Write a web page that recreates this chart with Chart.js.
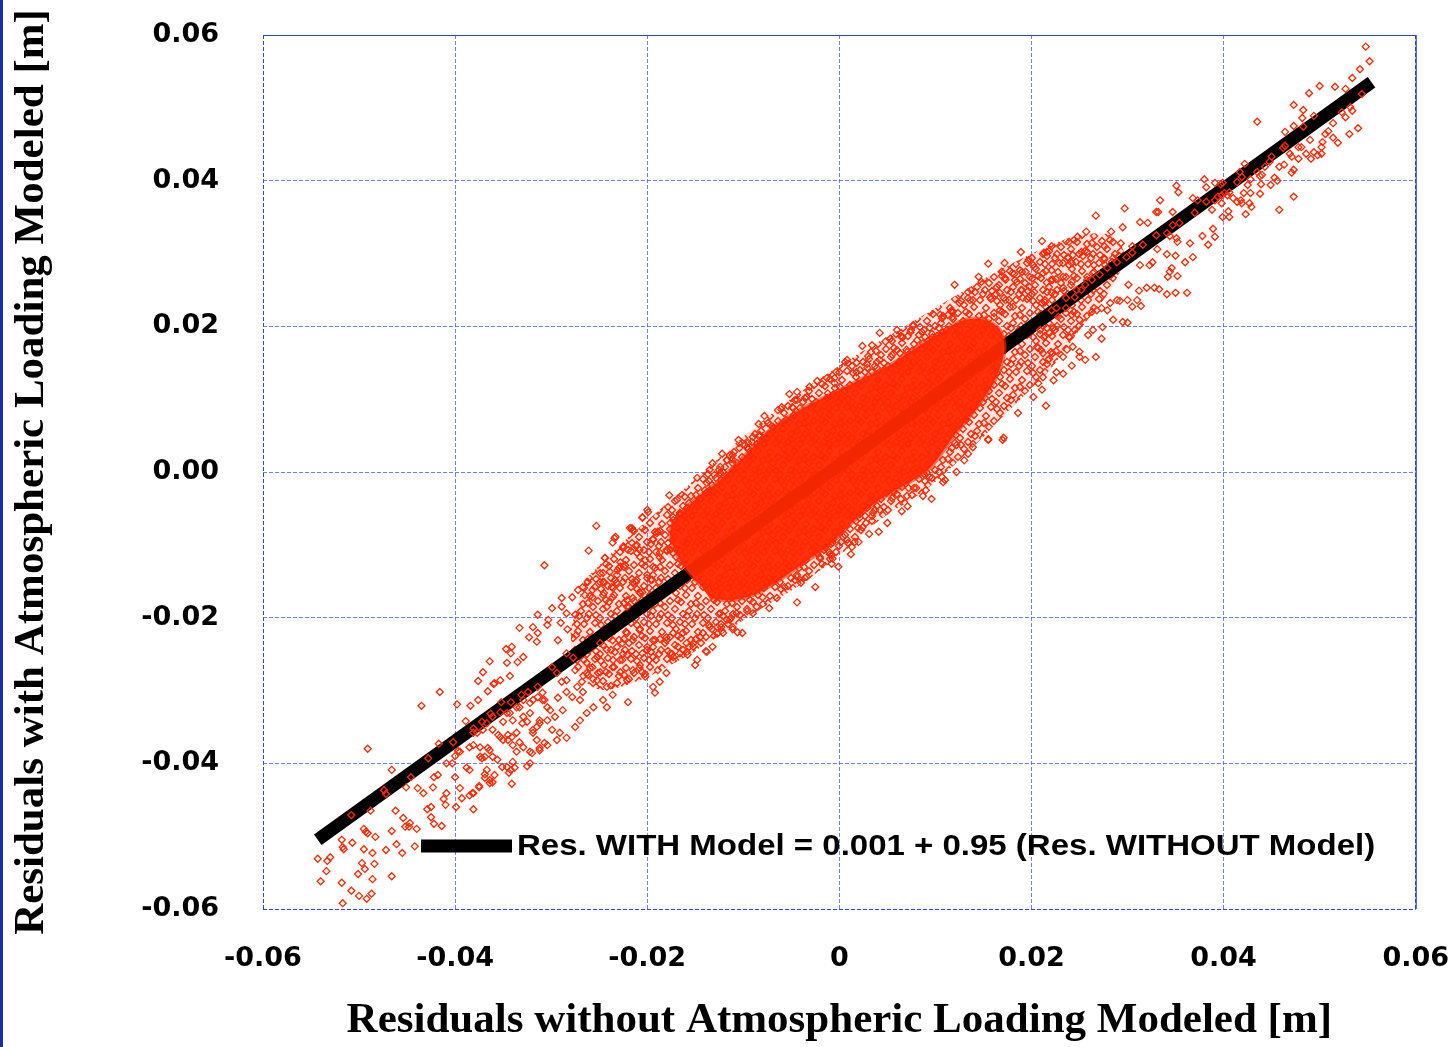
<!DOCTYPE html>
<html>
<head>
<meta charset="utf-8">
<title>Residuals with / without atmospheric loading</title>
<script src="https://cdn.jsdelivr.net/npm/chart.js@4.4.1/dist/chart.umd.min.js"></script>
<style>
  html, body { margin: 0; padding: 0; background: #fff; }
  #wrap { position: relative; width: 1449px; height: 1047px; }
  #edge { position: absolute; left: 0; top: 0; width: 3px; height: 1047px; background: #1a2bb0; }
</style>
</head>
<body>
<div id="wrap">
  <canvas id="residualChart"></canvas>
  <div id="edge"></div>
</div>
<script>
// axis ticks
const xTickValues = [-0.06, -0.04, -0.02, 0, 0.02, 0.04, 0.06];
const xTickLabels = ['-0.06', '-0.04', '-0.02', '0', '0.02', '0.04', '0.06'];
const yTickValues = [-0.06, -0.04, -0.02, 0, 0.02, 0.04, 0.06];
const yTickLabels = ['-0.06', '-0.04', '-0.02', '0.00', '0.02', '0.04', '0.06'];

// regression line end points
const fitX = [-0.0543, 0.0554];
const fitY = [-0.0505, 0.0535];
const legendText = 'Res. WITH Model = 0.001 + 0.95 (Res. WITHOUT Model)';

// outline of the busy middle of the cloud [without, with]
const bandOutline = [
  [-0.0265,-0.0148],[-0.0228,-0.0100],[-0.0187,-0.0052],[-0.0145,-0.0004],[-0.0104,0.0044],
  [-0.0052,0.0099],[0.0001,0.0147],[0.0053,0.0188],[0.0105,0.0229],[0.0157,0.0270],
  [0.0209,0.0305],[0.0250,0.0325],[0.0282,0.0325],[0.0297,0.0298],[0.0282,0.0250],
  [0.0250,0.0195],[0.0219,0.0140],[0.0177,0.0085],[0.0136,0.0030],[0.0089,-0.0025],
  [0.0042,-0.0066],[0.0001,-0.0114],[-0.0041,-0.0155],[-0.0083,-0.0189],[-0.0124,-0.0224],
  [-0.0166,-0.0258],[-0.0208,-0.0286],[-0.0249,-0.0299],[-0.0275,-0.0272],[-0.0280,-0.0217]
];

// outline of the saturated centre of the cloud [without, with]
const coreOutline = [
  [-0.0145,-0.0155],[-0.0166,-0.0121],[-0.0176,-0.0080],[-0.0156,-0.0045],[-0.0124,-0.0011],
  [-0.0098,0.0023],[-0.0072,0.0058],[-0.0041,0.0085],[-0.0010,0.0106],[0.0021,0.0126],
  [0.0053,0.0147],[0.0084,0.0174],[0.0110,0.0195],[0.0131,0.0209],[0.0151,0.0209],
  [0.0167,0.0195],[0.0172,0.0168],[0.0162,0.0126],[0.0141,0.0085],[0.0120,0.0051],
  [0.0094,0.0005],[0.0068,-0.0018],[0.0042,-0.0038],[0.0016,-0.0066],[-0.0010,-0.0100],
  [-0.0036,-0.0124],[-0.0062,-0.0148],[-0.0088,-0.0168],[-0.0114,-0.0176],[-0.0135,-0.0173]
];

// individual residual pairs [without model, with model], in metres
const lowerTail = [
  [-0.0416,-0.0302],[-0.0435,-0.0321],[-0.0491,-0.0380],[-0.0466,-0.0409],[-0.0446,-0.0419],[-0.0451,-0.0433],[-0.0474,-0.0437],[-0.0472,-0.0442],[-0.0508,-0.0471],[-0.0488,-0.0465],
  [-0.0462,-0.0465],[-0.0454,-0.0475],[-0.0447,-0.0482],[-0.0452,-0.0487],[-0.0448,-0.0487],[-0.0440,-0.0490],[-0.0466,-0.0493],[-0.0495,-0.0490],[-0.0493,-0.0494],[-0.0491,-0.0496],
  [-0.0483,-0.0501],[-0.0518,-0.0505],[-0.0507,-0.0509],[-0.0517,-0.0515],[-0.0516,-0.0518],[-0.0461,-0.0511],[-0.0442,-0.0514],[-0.0472,-0.0519],[-0.0455,-0.0523],[-0.0495,-0.0518],
  [-0.0486,-0.0523],[-0.0530,-0.0529],[-0.0533,-0.0534],[-0.0543,-0.0531],[-0.0497,-0.0537],[-0.0494,-0.0545],[-0.0484,-0.0538],[-0.0534,-0.0548],[-0.0501,-0.0552],[-0.0466,-0.0555],
  [-0.0486,-0.0559],[-0.0540,-0.0562],[-0.0518,-0.0564],[-0.0508,-0.0575],[-0.0500,-0.0582],[-0.0492,-0.0586],[-0.0487,-0.0579],[-0.0517,-0.0592],
  [-0.0398,-0.0319],[-0.0389,-0.0342],[-0.0384,-0.0321],[-0.0376,-0.0313],[-0.0366,-0.0301],[-0.0360,-0.0291],[-0.0353,-0.0286],
  [-0.0409,-0.0400],[-0.0400,-0.0390],[-0.0397,-0.0383],[-0.0388,-0.0406],[-0.0385,-0.0409],[-0.0395,-0.0434],[-0.0381,-0.0463],[-0.0382,-0.0441],[-0.0393,-0.0448],[-0.0399,-0.0460],
  [-0.0412,-0.0449],[-0.0410,-0.0457],[-0.0425,-0.0460],[-0.0423,-0.0433],[-0.0418,-0.0416],[-0.0422,-0.0419],[-0.0439,-0.0434],[-0.0433,-0.0441],[-0.0429,-0.0463],[-0.0425,-0.0474],
  [-0.0422,-0.0483],[-0.0414,-0.0486],[-0.0369,-0.0415],[-0.0364,-0.0423],[-0.0361,-0.0426],[-0.0367,-0.0409],[-0.0356,-0.0395],[-0.0351,-0.0405],[-0.0341,-0.0428],[-0.0344,-0.0413],
  [-0.0338,-0.0406],[-0.0325,-0.0404],[-0.0322,-0.0400],[-0.0372,-0.0393],[-0.0375,-0.0431],
  [-0.0353,-0.0364],[-0.0350,-0.0368],[-0.0345,-0.0361],[-0.0340,-0.0375],[-0.0333,-0.0371],[-0.0322,-0.0384],[-0.0312,-0.0382],[-0.0307,-0.0372],[-0.0319,-0.0354],[-0.0312,-0.0345],
  [-0.0304,-0.0341],[-0.0325,-0.0343],[-0.0340,-0.0341],[-0.0350,-0.0343],[-0.0361,-0.0354],[-0.0364,-0.0382],[-0.0369,-0.0391],[-0.0374,-0.0378],[-0.0381,-0.0375],[-0.0377,-0.0358],
  [-0.0353,-0.0330],[-0.0343,-0.0331],[-0.0333,-0.0323],[-0.0319,-0.0313],[-0.0309,-0.0313],[-0.0314,-0.0295],[-0.0309,-0.0303],
  [-0.0428,-0.0393],[-0.0417,-0.0373],[-0.0402,-0.0371],[-0.0381,-0.0352],[-0.0372,-0.0343],[-0.0363,-0.0332],[-0.0352,-0.0316],[-0.0342,-0.0316],[-0.0331,-0.0306],[-0.0324,-0.0302]
];

const lowerBand = [
  [-0.0253,-0.0074],[-0.0261,-0.0108],[-0.0307,-0.0128],[-0.0244,-0.0118],[-0.0233,-0.0089],[-0.0236,-0.0097],[-0.0216,-0.0077],[-0.0214,-0.0081],[-0.0205,-0.0062],[-0.0199,-0.0055],
  [-0.0225,-0.0104],[-0.0220,-0.0107],[-0.0211,-0.0100],[-0.0228,-0.0124],[-0.0228,-0.0130],[-0.0239,-0.0137],[-0.0246,-0.0151],[-0.0249,-0.0139],[-0.0237,-0.0158],[-0.0232,-0.0152],
  [-0.0262,-0.0151],[-0.0257,-0.0162],[-0.0267,-0.0158],[-0.0272,-0.0162],[-0.0278,-0.0172],[-0.0265,-0.0169],[-0.0257,-0.0172],[-0.0246,-0.0169],[-0.0289,-0.0173],[-0.0289,-0.0185],
  [-0.0299,-0.0187],[-0.0314,-0.0196],[-0.0303,-0.0203],[-0.0304,-0.0210],[-0.0333,-0.0214],[-0.0319,-0.0213],[-0.0323,-0.0227],[-0.0314,-0.0221],[-0.0315,-0.0233],[-0.0341,-0.0240],
  [-0.0347,-0.0243],[-0.0342,-0.0249],[-0.0329,-0.0254],[-0.0335,-0.0261],[-0.0364,-0.0260],[-0.0346,-0.0262],[-0.0343,-0.0280],[-0.0359,-0.0290],[-0.0371,-0.0275],[-0.0376,-0.0287],
  [-0.0284,-0.0194],[-0.0275,-0.0196],[-0.0290,-0.0207],[-0.0283,-0.0216],[-0.0274,-0.0224],[-0.0293,-0.0231],
  [-0.0263,-0.0262],[-0.0257,-0.0268],[-0.0249,-0.0275],[-0.0252,-0.0286],[-0.0242,-0.0295],[-0.0228,-0.0275],[-0.0221,-0.0286],[-0.0220,-0.0316],[-0.0236,-0.0306],[-0.0246,-0.0313],
  [-0.0242,-0.0323],[-0.0256,-0.0323],[-0.0263,-0.0331],[-0.0270,-0.0341],[-0.0275,-0.0350],[-0.0284,-0.0365],[-0.0291,-0.0358],[-0.0299,-0.0354],[-0.0294,-0.0368],[-0.0304,-0.0375],
  [-0.0312,-0.0379],[-0.0315,-0.0368],[-0.0320,-0.0386],[-0.0329,-0.0378],[-0.0336,-0.0384],[-0.0340,-0.0398],[-0.0346,-0.0405],[-0.0342,-0.0409],[-0.0359,-0.0416],[-0.0364,-0.0427],
  [-0.0369,-0.0420],[-0.0375,-0.0433],[-0.0381,-0.0441],[-0.0385,-0.0444],[-0.0374,-0.0391],[-0.0366,-0.0379],[-0.0361,-0.0391],[-0.0345,-0.0368],[-0.0341,-0.0364],[-0.0336,-0.0358],
  [-0.0355,-0.0361],[-0.0329,-0.0336],[-0.0330,-0.0345],[-0.0315,-0.0350],[-0.0319,-0.0358],[-0.0322,-0.0331],[-0.0312,-0.0341],[-0.0301,-0.0327],[-0.0304,-0.0323],[-0.0293,-0.0310],
  [-0.0296,-0.0336],[-0.0288,-0.0327],[-0.0284,-0.0302],[-0.0278,-0.0309],[-0.0273,-0.0295],[-0.0270,-0.0313],[-0.0267,-0.0302],[-0.0284,-0.0286],[-0.0289,-0.0288],[-0.0275,-0.0272],
  [-0.0263,-0.0276],[-0.0268,-0.0288],[-0.0277,-0.0255],[-0.0284,-0.0249],[-0.0299,-0.0268],[-0.0294,-0.0276],[-0.0314,-0.0309],[-0.0307,-0.0313],[-0.0322,-0.0317],[-0.0329,-0.0313],
  [-0.0336,-0.0323],[-0.0346,-0.0331],[-0.0361,-0.0336],[-0.0367,-0.0345],[-0.0371,-0.0354],[-0.0381,-0.0358],[-0.0385,-0.0378],[-0.0395,-0.0384],[-0.0403,-0.0400],[-0.0400,-0.0419],
  [-0.0409,-0.0441],
  [-0.0194,-0.0295],[-0.0187,-0.0288],[-0.0192,-0.0303],[-0.0202,-0.0281],[-0.0208,-0.0269],[-0.0215,-0.0272],[-0.0221,-0.0251],[-0.0226,-0.0258],[-0.0236,-0.0268],[-0.0205,-0.0249],
  [-0.0194,-0.0254],[-0.0180,-0.0276],[-0.0189,-0.0272],[-0.0173,-0.0254],[-0.0166,-0.0249],[-0.0159,-0.0235],[-0.0152,-0.0240],[-0.0150,-0.0265],[-0.0148,-0.0258],[-0.0138,-0.0247],
  [-0.0132,-0.0240],[-0.0180,-0.0227],[-0.0173,-0.0221],[-0.0194,-0.0231],[-0.0200,-0.0240],[-0.0208,-0.0217],[-0.0215,-0.0231],[-0.0221,-0.0221],[-0.0226,-0.0235],[-0.0236,-0.0231],
  [-0.0242,-0.0244],[-0.0249,-0.0235],[-0.0252,-0.0254],[-0.0142,-0.0221],[-0.0127,-0.0213],[-0.0121,-0.0221],[-0.0111,-0.0213],[-0.0117,-0.0203],[-0.0107,-0.0194],
  [-0.0173,-0.0066],[-0.0166,-0.0056],[-0.0190,-0.0084],[-0.0187,-0.0111],[-0.0194,-0.0130],[-0.0176,-0.0107],[-0.0173,-0.0093],[-0.0208,-0.0107],[-0.0202,-0.0121],[-0.0211,-0.0148],
  [-0.0195,-0.0148],[-0.0221,-0.0185],[-0.0215,-0.0173],[-0.0208,-0.0165],[-0.0159,-0.0097]
];

const coreFringe = [
  [-0.0044,-0.0179],[-0.0073,-0.0187],[-0.0090,-0.0194],[-0.0096,-0.0191],[-0.0106,-0.0220],[-0.0111,-0.0216],[-0.0101,-0.0221],[-0.0139,-0.0246],[-0.0127,-0.0222],[-0.0123,-0.0213],
  [-0.0025,-0.0158],[-0.0040,-0.0152],[-0.0034,-0.0144],[-0.0010,-0.0113],[-0.0001,-0.0130],[-0.0020,-0.0119],[-0.0044,-0.0144],[-0.0057,-0.0158],[-0.0065,-0.0173],[-0.0080,-0.0172],
  [-0.0086,-0.0185],[-0.0114,-0.0203],[-0.0124,-0.0194],[-0.0135,-0.0213],[-0.0145,-0.0227],[-0.0152,-0.0235],[-0.0163,-0.0221],[-0.0168,-0.0240],[-0.0158,-0.0251],[-0.0176,-0.0249],
  [-0.0180,-0.0231],
  [-0.0177,-0.0032],[-0.0148,-0.0008],[-0.0169,-0.0038],[-0.0161,-0.0034],[-0.0200,-0.0052],[-0.0205,-0.0063],[-0.0218,-0.0077],[-0.0215,-0.0080],[-0.0234,-0.0091],[-0.0244,-0.0118],
  [-0.0245,-0.0151],[-0.0223,-0.0128],[-0.0231,-0.0135],[-0.0194,-0.0093],[-0.0189,-0.0082],[-0.0176,-0.0070],[-0.0166,-0.0059],[-0.0158,-0.0049],[-0.0145,-0.0038],[-0.0135,-0.0025],
  [-0.0130,-0.0004],[-0.0124,0.0007],[-0.0117,0.0016],[-0.0111,0.0023],[-0.0104,0.0033],[-0.0095,0.0040],[-0.0187,-0.0117],[-0.0180,-0.0107],[-0.0215,-0.0152],[-0.0200,-0.0141],
  [-0.0221,-0.0176],[-0.0236,-0.0172],[-0.0242,-0.0185],[-0.0205,-0.0165],
  [0.0024,0.0173],[0.0034,0.0174],[0.0008,0.0154],[0.0018,0.0150],[0.0030,0.0159],[0.0042,0.0191],[0.0048,0.0179],[0.0053,0.0183],[0.0055,0.0161],[0.0060,0.0195],
  [0.0065,0.0185],[0.0074,0.0192],[0.0077,0.0202],[0.0086,0.0192],[0.0094,0.0198],[0.0105,0.0216],[0.0117,0.0220],[0.0118,0.0213],[0.0108,0.0192],[-0.0023,0.0125],
  [-0.0031,0.0117],[-0.0044,0.0110],[-0.0052,0.0107],[-0.0044,0.0099],[-0.0060,0.0089],[-0.0064,0.0085],[-0.0049,0.0089],[-0.0078,0.0077],[-0.0084,0.0066],[-0.0072,0.0065],
  [-0.0090,0.0048],[-0.0083,0.0051],[-0.0105,0.0044],[-0.0096,0.0034],[-0.0114,0.0023],[-0.0122,0.0025],[-0.0132,0.0012],[-0.0135,0.0003],[-0.0111,0.0012],[-0.0124,-0.0001],
  [-0.0138,-0.0015],[-0.0140,-0.0025],[-0.0013,0.0129],[-0.0005,0.0129],[0.0000,0.0137],[0.0006,0.0151],[0.0018,0.0137],[0.0029,0.0143],[-0.0005,0.0122],[-0.0012,0.0108],
  [-0.0034,0.0103],[0.0039,0.0143],[0.0042,0.0154],[0.0063,0.0163],[0.0070,0.0168],[0.0081,0.0181],[0.0087,0.0177],[0.0097,0.0185],
  [0.0122,0.0000],[0.0130,0.0016],[0.0134,0.0025],[0.0139,0.0034],[0.0108,-0.0014],[0.0110,-0.0011],[0.0107,-0.0007],[0.0096,-0.0037],[0.0087,-0.0033],[0.0090,-0.0025],
  [0.0071,-0.0047],[0.0065,-0.0054],[0.0064,-0.0037],[0.0055,-0.0036],[0.0072,-0.0022],[0.0080,-0.0022],[0.0050,-0.0070],[0.0041,-0.0082],[0.0031,-0.0085],[0.0020,-0.0096],
  [0.0016,-0.0096],[0.0012,-0.0113],[0.0013,-0.0103],[0.0008,-0.0093],[0.0004,-0.0089],[-0.0008,-0.0114],[-0.0007,-0.0119],[-0.0008,-0.0126],[-0.0015,-0.0103],[-0.0007,-0.0097],
  [0.0034,-0.0067],[0.0024,-0.0076],[0.0021,-0.0063],[0.0035,-0.0056],[0.0042,-0.0052],[0.0094,-0.0007],[0.0091,-0.0001],[0.0084,0.0003],[0.0117,0.0033],[0.0122,0.0037],
  [0.0155,0.0044],[0.0170,0.0044]
];

const upperBand = [
  [0.0321,0.0342],[0.0295,0.0336],[0.0283,0.0330],[0.0248,0.0323],[0.0239,0.0316],[0.0211,0.0317],[0.0189,0.0302],[0.0221,0.0310],[0.0216,0.0302],[0.0213,0.0301],
  [0.0252,0.0302],[0.0243,0.0298],[0.0276,0.0310],[0.0293,0.0314],[0.0305,0.0310],[0.0316,0.0312],[0.0331,0.0306],[0.0341,0.0299],[0.0350,0.0297],[0.0368,0.0295],
  [0.0360,0.0288],[0.0378,0.0324],[0.0389,0.0334],[0.0391,0.0323],[0.0384,0.0312],[0.0365,0.0314],[0.0352,0.0316],[0.0344,0.0324],[0.0351,0.0321],[0.0326,0.0288],
  [0.0323,0.0284],[0.0313,0.0284],[0.0346,0.0280],[0.0344,0.0275],[0.0342,0.0268],[0.0352,0.0269],[0.0362,0.0246],[0.0350,0.0246],[0.0341,0.0244],[0.0333,0.0251],
  [0.0328,0.0253],[0.0320,0.0253],[0.0312,0.0249],[0.0301,0.0257],[0.0310,0.0236],[0.0314,0.0228],[0.0305,0.0227],[0.0300,0.0236],[0.0292,0.0235],[0.0289,0.0236],
  [0.0282,0.0232],[0.0279,0.0222],[0.0273,0.0225],[0.0268,0.0222],[0.0285,0.0209],[0.0300,0.0205],[0.0295,0.0206],[0.0274,0.0199],[0.0264,0.0195],[0.0259,0.0188],
  [0.0273,0.0183],[0.0267,0.0158],[0.0256,0.0154],[0.0250,0.0158],[0.0242,0.0146],[0.0233,0.0135],[0.0223,0.0126],[0.0215,0.0091],[0.0211,0.0113],[0.0202,0.0103],
  [0.0186,0.0081],[0.0171,0.0047],[0.0155,0.0045],[0.0243,0.0172],[0.0250,0.0165],[0.0237,0.0168],[0.0233,0.0158],[0.0222,0.0163],[0.0217,0.0154],[0.0226,0.0137],
  [0.0212,0.0130],[0.0207,0.0122],[0.0245,0.0195],[0.0240,0.0185],[0.0250,0.0209],[0.0263,0.0220],[0.0242,0.0216],[0.0236,0.0225],[0.0228,0.0213],[0.0223,0.0198],
  [0.0219,0.0191],[0.0213,0.0185],[0.0209,0.0195],[0.0206,0.0172],[0.0212,0.0163],
  [0.0216,0.0260],[0.0212,0.0273],[0.0222,0.0264],[0.0221,0.0246],[0.0211,0.0232],[0.0214,0.0233],[0.0203,0.0247],[0.0198,0.0254],[0.0190,0.0250],[0.0185,0.0261],
  [0.0180,0.0273],[0.0172,0.0287],[0.0169,0.0275],[0.0155,0.0286],[0.0145,0.0268],[0.0148,0.0261],[0.0134,0.0247],[0.0136,0.0236],[0.0125,0.0232],[0.0120,0.0257],
  [0.0117,0.0222],[0.0118,0.0220],[0.0107,0.0211],[0.0066,0.0185],[0.0197,0.0291],[0.0194,0.0275],[0.0197,0.0240],[0.0191,0.0239],[0.0181,0.0227],[0.0173,0.0236],
  [0.0167,0.0222],[0.0161,0.0213],[0.0157,0.0240],[0.0167,0.0246],[0.0164,0.0254],[0.0173,0.0264],[0.0182,0.0272],[0.0188,0.0277],[0.0201,0.0266],[0.0245,0.0240],
  [0.0252,0.0250],[0.0242,0.0261],[0.0233,0.0253],[0.0226,0.0225],[0.0233,0.0268],[0.0258,0.0268],[0.0264,0.0273],[0.0238,0.0295],[0.0242,0.0287],[0.0265,0.0284],
  [0.0276,0.0292],[0.0285,0.0294],[0.0258,0.0302],[0.0229,0.0287],[0.0221,0.0277],[0.0203,0.0281],
  [0.0221,0.0222],[0.0236,0.0239],[0.0247,0.0250],[0.0256,0.0257],[0.0263,0.0264],[0.0271,0.0271],[0.0279,0.0280],[0.0289,0.0288],[0.0299,0.0295],[0.0305,0.0301],
  [0.0330,0.0325],[0.0341,0.0328],[0.0347,0.0339],[0.0354,0.0342],
  [0.0267,0.0352],[0.0297,0.0362],[0.0313,0.0343],[0.0257,0.0330],[0.0334,0.0373]
];

const upperTail = [
  [0.0548,0.0584],[0.0552,0.0564],[0.0542,0.0553],[0.0534,0.0541],[0.0527,0.0526],[0.0516,0.0529],[0.0500,0.0530],[0.0489,0.0520],[0.0473,0.0504],[0.0483,0.0497],
  [0.0482,0.0486],[0.0494,0.0489],[0.0544,0.0519],[0.0532,0.0501],[0.0534,0.0496],[0.0523,0.0494],[0.0527,0.0487],[0.0514,0.0479],[0.0540,0.0472],[0.0531,0.0464],
  [0.0509,0.0468],[0.0506,0.0464],[0.0514,0.0459],[0.0519,0.0452],[0.0503,0.0453],[0.0502,0.0446],[0.0494,0.0439],[0.0502,0.0437],[0.0498,0.0435],[0.0491,0.0430],
  [0.0486,0.0437],[0.0478,0.0430],[0.0481,0.0446],[0.0478,0.0446],[0.0473,0.0475],[0.0483,0.0474],[0.0464,0.0467],[0.0464,0.0448],[0.0462,0.0445],[0.0490,0.0456],
  [0.0469,0.0437],[0.0471,0.0433],[0.0473,0.0415],[0.0471,0.0411],[0.0463,0.0422],[0.0458,0.0419],[0.0450,0.0433],[0.0448,0.0426],[0.0443,0.0419],[0.0435,0.0481],
  [0.0422,0.0423],[0.0417,0.0412],[0.0419,0.0405],[0.0414,0.0398],[0.0435,0.0412],[0.0440,0.0408],[0.0438,0.0406],[0.0453,0.0404],[0.0456,0.0400],[0.0449,0.0394],
  [0.0439,0.0395],[0.0428,0.0402],[0.0425,0.0394],[0.0421,0.0383],[0.0428,0.0383],[0.0438,0.0382],[0.0418,0.0373],[0.0414,0.0371],[0.0410,0.0376],[0.0419,0.0369],
  [0.0427,0.0369],[0.0429,0.0364],[0.0473,0.0378],[0.0458,0.0360],[0.0423,0.0354],[0.0405,0.0358],[0.0406,0.0350],[0.0399,0.0350],[0.0380,0.0402],[0.0382,0.0391],
  [0.0391,0.0397],[0.0397,0.0395],[0.0399,0.0397],[0.0351,0.0393],[0.0353,0.0384],[0.0368,0.0376],[0.0373,0.0373],[0.0382,0.0371],[0.0391,0.0373],[0.0394,0.0378],
  [0.0398,0.0380],[0.0401,0.0383],[0.0404,0.0380],[0.0406,0.0384],[0.0398,0.0369],[0.0388,0.0360],[0.0370,0.0356],[0.0347,0.0357],[0.0330,0.0357],[0.0332,0.0357]
];

const residualPairs = [].concat(lowerTail, lowerBand, coreFringe, upperBand, upperTail);

const gridBlue = 'rgba(70, 100, 240, 0.8)';
const frameBlue = '#2a45d8';
const dotRed = 'rgb(255, 40, 0)';
const tickFont = { family: '"DejaVu Sans", sans-serif', size: 27, weight: 'bold' };
const titleFont = { family: '"Liberation Serif", "Times New Roman", serif', size: 43, weight: 'bold' };

// hollow-diamond texture used to fill the crowded band
function diamondTexture() {
  const size = 36;
  const spots = [[3,4],[13,2],[24,6],[32,10],[8,12],[19,11],[28,17],[2,19],[14,20],[22,25],[33,26],
                 [7,28],[17,31],[27,33],[11,6],[35,2],[5,35],[20,3],[30,24],[12,27],[25,13],[1,12]];
  const c = document.createElement('canvas');
  c.width = size;
  c.height = size;
  const g = c.getContext('2d');
  g.fillStyle = 'rgba(255, 40, 0, 0.12)';
  g.fillRect(0, 0, size, size);
  g.strokeStyle = dotRed;
  g.lineWidth = 1.3;
  spots.forEach(([sx, sy]) => {
    [-size, 0, size].forEach(ox => [-size, 0, size].forEach(oy => {
      const x = sx + ox, y = sy + oy;
      g.beginPath();
      g.moveTo(x, y - 3.5);
      g.lineTo(x + 3.5, y);
      g.lineTo(x, y + 3.5);
      g.lineTo(x - 3.5, y);
      g.closePath();
      g.stroke();
    }));
  });
  return g.createPattern(c, 'repeat');
}

// top and right edges are drawn solid; also the in-plot key for the fit line
const framePlugin = {
  id: 'frameAndKey',
  afterDraw(chart) {
    const { ctx, chartArea: a } = chart;
    ctx.save();
    ctx.strokeStyle = frameBlue;
    ctx.lineWidth = 1.2;
    ctx.beginPath();
    ctx.moveTo(a.left, a.top + 0.5);
    ctx.lineTo(a.right + 0.5, a.top + 0.5);
    ctx.lineTo(a.right + 0.5, a.bottom);
    ctx.stroke();

    const y = a.bottom - 63;
    ctx.fillStyle = '#000';
    ctx.fillRect(a.left + 158, y - 6.5, 91, 13);
    ctx.translate(a.left + 254, y);
    ctx.scale(1.1, 1);
    ctx.font = 'bold 30px "Liberation Sans", Arial, sans-serif';
    ctx.textBaseline = 'middle';
    ctx.fillText(legendText, 0, 1);
    ctx.restore();
  }
};

const edgeColor = (c) => (c.index === 0 || c.index === 6) ? frameBlue : gridBlue;
const toPoints = (pairs) => pairs.map(p => ({ x: p[0], y: p[1] }));

new Chart(document.getElementById('residualChart'), {
  type: 'scatter',
  data: {
    datasets: [
      {
        label: 'band',
        type: 'line',
        data: toPoints(bandOutline),
        borderColor: 'rgba(255, 40, 0, 0)',
        borderWidth: 0,
        backgroundColor: diamondTexture(),
        fill: 'shape',
        tension: 0.3,
        pointRadius: 0,
        order: 4
      },
      {
        label: 'fit',
        type: 'line',
        data: fitX.map((x, i) => ({ x: x, y: fitY[i] })),
        borderColor: '#000',
        borderWidth: 13,
        borderCapStyle: 'butt',
        pointRadius: 0,
        fill: false,
        order: 3
      },
      {
        label: 'core',
        type: 'line',
        data: toPoints(coreOutline),
        borderColor: 'rgba(255, 40, 0, 0.6)',
        borderWidth: 4,
        backgroundColor: 'rgba(255, 40, 0, 0.95)',
        fill: 'shape',
        tension: 0.3,
        pointRadius: 0,
        order: 2
      },
      {
        label: 'residuals',
        data: toPoints(residualPairs),
        pointStyle: 'rectRot',
        pointRadius: 3.5,
        pointBorderWidth: 1.3,
        pointBorderColor: dotRed,
        pointBackgroundColor: 'rgba(0,0,0,0)',
        order: 1
      }
    ]
  },
  options: {
    responsive: true,
    maintainAspectRatio: false,
    animation: false,
    events: [],
    layout: { padding: { left: 0, right: 33, top: 35, bottom: 0 } },
    plugins: {
      legend: { display: false },
      tooltip: { enabled: false }
    },
    scales: {
      x: {
        type: 'linear',
        min: -0.06,
        max: 0.06,
        afterBuildTicks: s => { s.ticks = xTickValues.map(v => ({ value: v })); },
        afterFit: s => { s.height = 138; },
        ticks: {
          callback: (v, i) => xTickLabels[i],
          font: tickFont,
          color: '#000',
          padding: 0,
          maxRotation: 0,
          autoSkip: false
        },
        grid: { color: edgeColor, lineWidth: 1, drawTicks: true, tickLength: 34, tickColor: 'rgba(0,0,0,0)' },
        border: { display: false, dash: [4, 2] },
        title: {
          display: true,
          text: 'Residuals without Atmospheric Loading Modeled [m]',
          font: titleFont,
          color: '#000',
          padding: { top: 0, bottom: 0 }
        }
      },
      y: {
        type: 'linear',
        min: -0.06,
        max: 0.06,
        afterBuildTicks: s => { s.ticks = yTickValues.map(v => ({ value: v })); },
        afterFit: s => { s.width = 263; },
        ticks: {
          callback: (v, i) => yTickLabels[i],
          font: tickFont,
          color: '#000',
          padding: 0,
          autoSkip: false
        },
        grid: { color: edgeColor, lineWidth: 1, drawTicks: true, tickLength: 44, tickColor: 'rgba(0,0,0,0)' },
        border: { display: false, dash: [4, 2] },
        title: {
          display: true,
          text: 'Residuals with Atmospheric Loading Modeled [m]',
          font: titleFont,
          color: '#000',
          padding: { top: 6, bottom: 0 }
        }
      }
    }
  },
  plugins: [framePlugin]
});
</script>
</body>
</html>
